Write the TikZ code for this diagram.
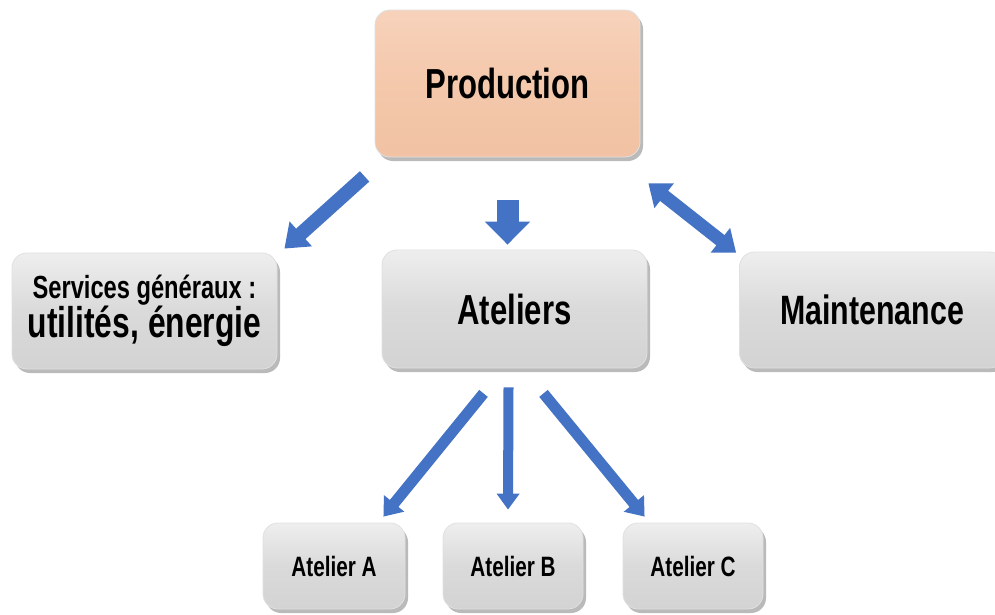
\documentclass[tikz,border=0pt]{standalone}
\usepackage{fontspec}
\setmainfont{Liberation Sans}[FakeStretch=0.74]
\usetikzlibrary{arrows.meta,shadows,calc}
\definecolor{arrowblue}{HTML}{4472C4}
\definecolor{peachtop}{HTML}{F7D2BB}
\definecolor{peachmid}{HTML}{F4C8AB}
\definecolor{peachbot}{HTML}{F1C2A3}
\definecolor{greytop}{HTML}{EEEEEE}
\definecolor{greymid}{HTML}{DADADA}
\definecolor{greybot}{HTML}{D3D3D3}
\begin{document}
\begin{tikzpicture}[x=1pt,y=-1pt,
  boxbase/.style={rounded corners=15pt, draw=white!88!black, line width=0.8pt,
     drop shadow={shadow xshift=3pt, shadow yshift=-4pt, fill=black!60, opacity=0.45},
     inner sep=0pt, align=center},
  greybox/.style={boxbase, top color=greytop, bottom color=greybot, middle color=greymid},
  peachbox/.style={boxbase, top color=peachtop, bottom color=peachbot, middle color=peachmid},
  bigarrow/.style={draw=arrowblue, line width=#1},
  bigarrow/.default=14pt
]
\lineskiplimit=-100pt
\useasboundingbox (0,0) rectangle (995,614);
\fill[white] (0,0) rectangle (995,614);
\clip (0,0) rectangle (995,614);

% boxes
\node[peachbox, minimum width=265pt, minimum height=147pt,
      font=\bfseries\fontsize{42}{46}\selectfont] (prod) at (507.5,83.5) {Production};
\node[greybox, minimum width=265pt, minimum height=116pt,
      font=\bfseries\fontsize{32}{39}\selectfont] (serv) at (144.5,311)
  {Services généraux :\\\fontsize{43}{39}\selectfont utilités, énergie};
\node[greybox, minimum width=265pt, minimum height=118pt,
      font=\bfseries\fontsize{42}{46}\selectfont] (atel) at (514.5,309) {Ateliers};
\node[greybox, minimum width=265pt, minimum height=116pt,
      font=\bfseries\fontsize{41}{46}\selectfont] (maint) at (872,310) {Maintenance};
\node[greybox, minimum width=142pt, minimum height=86pt,
      font=\bfseries\fontsize{28}{32}\selectfont] (aa) at (334,566) {Atelier A};
\node[greybox, minimum width=140pt, minimum height=86pt,
      font=\bfseries\fontsize{28}{32}\selectfont] (ab) at (513,566) {Atelier B};
\node[greybox, minimum width=140pt, minimum height=86pt,
      font=\bfseries\fontsize{28}{32}\selectfont] (ac) at (693,566) {Atelier C};

% arrows
\draw[bigarrow=14pt, -{Triangle[width=32pt,length=22pt]}]
  ($(prod.south west)+(-10,19)$) -- ($(serv.north east)+(7,-4)$);
\draw[bigarrow=22pt, -{Triangle[width=44pt,length=23pt]}]
  ($(prod.south)+(0,43)$) -- ($(atel.north)+(-7,-5)$);
\draw[bigarrow=13pt, {Triangle[width=30pt,length=20pt]}-{Triangle[width=30pt,length=20pt]}]
  ($(prod.south east)+(8,26)$) -- ($(maint.north west)+(-3,1)$);
\draw[bigarrow=11pt, -{Triangle[width=25pt,length=17pt]}]
  ($(atel.south)+(-31,25)$) -- ($(aa.north east)+(-22,-6)$);
\draw[bigarrow=10pt, -{Triangle[width=22pt,length=16pt]}]
  ($(atel.south)+(-6,19)$) -- ($(ab.north)+(-5,-13)$);
\draw[bigarrow=11pt, -{Triangle[width=25pt,length=17pt]}]
  ($(atel.south)+(29,25)$) -- ($(ac.north west)+(22,-6)$);
\end{tikzpicture}
\end{document}
